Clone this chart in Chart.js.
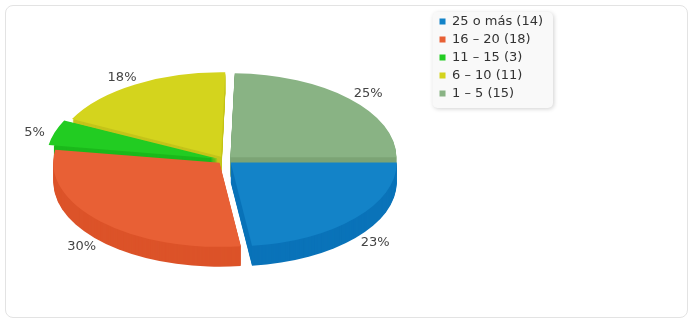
<!DOCTYPE html>
<html>
<head>
<meta charset="utf-8">
<script src="https://cdn.jsdelivr.net/npm/chart.js@4.4.1/dist/chart.umd.min.js"></script>
<style>
  html, body { margin: 0; padding: 0; background: #fff; }
  #wrap { position: relative; width: 690px; height: 320px; }
  #frame { position: absolute; left: 5px; top: 5px; width: 681px; height: 311px; border: 1px solid #e3e3e3; border-radius: 8px; }
  canvas { position: absolute; left: 0; top: 0; }
</style>
</head>
<body>
<div id="wrap">
  <div id="frame"></div>
  <canvas id="pieChart" width="690" height="320"></canvas>
</div>
<script>
  // data
  const categories = ["25 o más", "16 – 20", "11 – 15", "6 – 10", "1 – 5"];
  const counts = [14, 18, 3, 11, 15];

  const topColors = ["#1383c8", "#e86035", "#22cc22", "#d4d41d", "#89b384"];
  const sideColors = ["#0a73b9", "#dc5329", "#1bb91b", "#c4c41a", "#7ca576"];

  // ellipse the pie is squashed into
  const CX = 225, CY = 160, RX = 166, RY = 84, DEPTH = 20;
  const LABEL_RX = 200, LABEL_RY = 100;

  const total = counts.reduce((a, b) => a + b, 0);

  function pieTransform(chart) {
    const arc = chart.getDatasetMeta(0).data[0];
    const sx = RX / arc.outerRadius;
    const sy = RY / arc.outerRadius;
    return { sx, sy, tx: CX - sx * arc.x, ty: CY - sy * arc.y };
  }

  // same shape chart.js draws for the top face (it shifts by offset / 4)
  function slicePath(ctx, arc) {
    const { x, y, startAngle, endAngle, outerRadius } = arc;
    const off = (arc.options.offset || 0) / 4;
    const mid = (startAngle + endAngle) / 2;
    const ox = x + Math.cos(mid) * off;
    const oy = y + Math.sin(mid) * off;
    ctx.beginPath();
    ctx.moveTo(ox, oy);
    ctx.arc(ox, oy, outerRadius, startAngle, endAngle);
    ctx.closePath();
  }

  const pie3d = {
    id: "pie3d",
    beforeDraw(chart) {
      // legend background box
      const boxes = chart.legend && chart.legend.legendHitBoxes;
      if (!boxes || !boxes.length) return;
      const ctx = chart.ctx;
      const left = Math.min(...boxes.map((b) => b.left)) - 7;
      const top = Math.min(...boxes.map((b) => b.top)) - 3;
      const right = Math.max(...boxes.map((b) => b.left + b.width)) + 10;
      const bottom = Math.max(...boxes.map((b) => b.top + b.height)) + 8;
      ctx.save();
      ctx.shadowColor = "rgba(0,0,0,0.18)";
      ctx.shadowBlur = 4;
      ctx.shadowOffsetX = 1;
      ctx.shadowOffsetY = 1;
      ctx.fillStyle = "#f9f9f9";
      ctx.beginPath();
      ctx.roundRect(left, top, right - left, bottom - top, 5);
      ctx.fill();
      ctx.restore();
    },
    beforeDatasetsDraw(chart) {
      const ctx = chart.ctx;
      const t = pieTransform(chart);
      const arcs = chart.getDatasetMeta(0).data;
      ctx.save();
      for (let dy = DEPTH; dy >= 1; dy--) {
        ctx.setTransform(t.sx, 0, 0, t.sy, t.tx, t.ty + dy);
        arcs.forEach((arc, i) => {
          slicePath(ctx, arc);
          ctx.fillStyle = sideColors[i];
          ctx.fill();
        });
      }
      ctx.setTransform(t.sx, 0, 0, t.sy, t.tx, t.ty);
    },
    afterDatasetsDraw(chart) {
      const ctx = chart.ctx;
      ctx.restore();
      const arcs = chart.getDatasetMeta(0).data;
      ctx.save();
      ctx.font = "13px 'DejaVu Sans'";
      ctx.fillStyle = "#444";
      ctx.textAlign = "center";
      ctx.textBaseline = "middle";
      arcs.forEach((arc, i) => {
        const mid = (arc.startAngle + arc.endAngle) / 2;
        const c = Math.cos(mid), s = Math.sin(mid);
        const x = CX + LABEL_RX * c;
        const y = CY + 3 + LABEL_RY * s + (s > 0 ? DEPTH * s : 0);
        ctx.fillText(Math.round((counts[i] / total) * 100) + "%", x, y);
      });
      ctx.restore();
    }
  };

  new Chart(document.getElementById("pieChart"), {
    type: "pie",
    data: {
      labels: categories.map((c, i) => `${c} (${counts[i]})`),
      datasets: [
        {
          data: counts,
          backgroundColor: topColors,
          borderWidth: 0,
          offset: 26,
          clip: false
        }
      ]
    },
    options: {
      responsive: false,
      animation: false,
      devicePixelRatio: 1,
      events: [],
      rotation: 90,
      layout: { padding: { top: 10, right: 137 } },
      plugins: {
        tooltip: { enabled: false },
        legend: {
          position: "right",
          align: "start",
          labels: {
            font: { family: "'DejaVu Sans'", size: 13 },
            color: "#333",
            boxWidth: 6,
            boxHeight: 6,
            padding: 5
          }
        }
      }
    },
    plugins: [pie3d]
  });
</script>
</body>
</html>
